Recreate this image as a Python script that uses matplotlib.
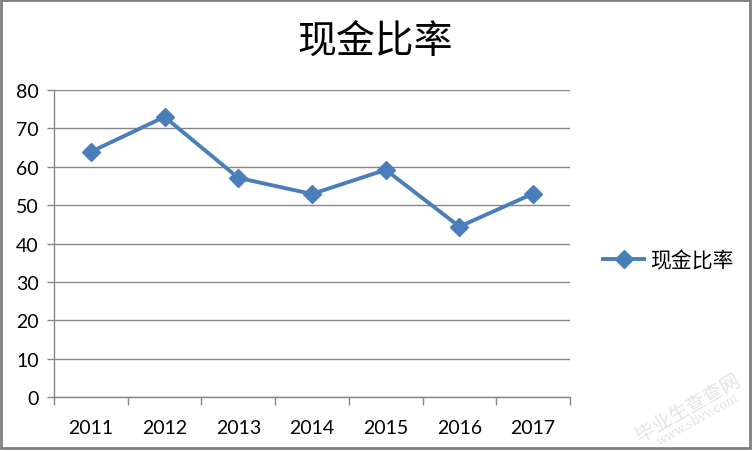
import matplotlib
matplotlib.use("Agg")
import matplotlib.pyplot as plt
from matplotlib.patches import Rectangle
from matplotlib.lines import Line2D

years = ["2011", "2012", "2013", "2014", "2015", "2016", "2017"]
values = [63.9, 73.0, 57.1, 52.9, 59.2, 44.4, 53.0]
series_name = "现金比率"
title = "现金比率"
yticks = [0, 10, 20, 30, 40, 50, 60, 70, 80]

fam = ["Lato", "Noto Sans CJK SC", "DejaVu Sans"]
plt.rcParams["font.family"] = fam

W, H = 752, 452
fig = plt.figure(figsize=(W / 100, H / 100), dpi=100)
fig.patch.set_facecolor("white")

left, right, top, bottom = 54, 570, 91, 398
ax = fig.add_axes([left / W, 1 - bottom / H, (right - left) / W, (bottom - top) / H])

color = "#4A7EBB"
x = list(range(len(years)))
ax.plot(x, values, color=color, lw=2.8, marker="D", markersize=9.5,
        markeredgecolor=color, markerfacecolor=color, solid_joinstyle="round", zorder=3)

ax.set_xlim(-0.5, len(years) - 0.5)
ax.set_ylim(0, 80)
ax.set_yticks(yticks)
ax.set_yticklabels([str(v) for v in yticks], fontsize=14, color="black")
ax.yaxis.grid(True, color="#868686", lw=1)
ax.set_axisbelow(True)

# category labels at centers, tick marks at boundaries
ax.set_xticks(x)
ax.set_xticklabels(years, fontsize=14, color="black")
ax.tick_params(axis="x", which="major", length=0, pad=16)
ax.set_xticks([i + 0.5 for i in range(-1, len(years))], minor=True)
ax.tick_params(axis="x", which="minor", length=6, color="#868686", width=1, direction="out")
ax.tick_params(axis="y", length=5, color="#868686", width=1, direction="out", pad=6)

for s in ["top", "right"]:
    ax.spines[s].set_visible(False)
for s in ["left", "bottom"]:
    ax.spines[s].set_color("#868686")
    ax.spines[s].set_linewidth(1)

fig.text(375 / W, 1 - 42 / H, title, fontsize=28, ha="center", va="center",
         family=["Noto Sans CJK SC", "DejaVu Sans"])

# legend
handle = Line2D([], [], color=color, lw=2.8, marker="D", markersize=9,
                markeredgecolor=color, markerfacecolor=color)
fig.legend([handle], [series_name], loc="center left",
           bbox_to_anchor=(593 / W, 1 - 261 / H), frameon=False,
           handlelength=1.95, handletextpad=0.3, borderpad=0,
           prop={"family": ["Noto Sans CJK SC", "DejaVu Sans"], "size": 15})

# watermark
fig.text(688 / W, 1 - 408 / H, "毕业生查查网", fontsize=14, color="#E3E3E3",
         rotation=30, ha="center", va="center", family=["Noto Sans CJK SC", "DejaVu Sans"])
fig.text(698 / W, 1 - 420 / H, "www.sbvv.com", fontsize=9, color="#E3E3E3",
         rotation=30, ha="center", va="center", family=["DejaVu Serif"])

# outer frame
fig.patches.append(Rectangle((1 / W, 3 / H), (W - 3) / W, (H - 4) / H,
                             transform=fig.transFigure, fill=False,
                             edgecolor="#7F7F7F", lw=2))

fig.savefig("out.png", dpi=100, facecolor="white")
